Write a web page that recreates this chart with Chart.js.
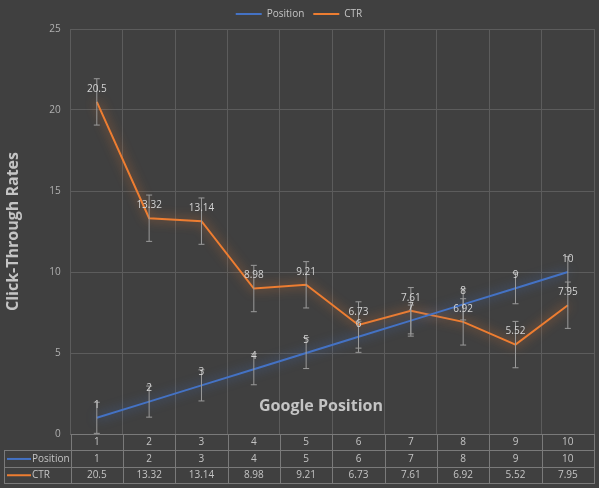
<!DOCTYPE html>
<html>
<head>
<meta charset="utf-8">
<script src="https://cdn.jsdelivr.net/npm/chart.js@4"></script>
<style>
  html, body { margin: 0; padding: 0; background: #404040; }
  #wrap { width: 599px; height: 488px; }
</style>
</head>
<body>
<div id="wrap"><canvas id="c" width="599" height="488"></canvas></div>
<script>
const categories = ['1', '2', '3', '4', '5', '6', '7', '8', '9', '10'];
const positionValues = [1, 2, 3, 4, 5, 6, 7, 8, 9, 10];
const ctrValues = [20.5, 13.32, 13.14, 8.98, 9.21, 6.73, 7.61, 6.92, 5.52, 7.95];
const positionError = 0.96;
const ctrError = 1.43;
const yTicks = [0, 5, 10, 15, 20, 25];

const TEXT = '#c4c4c4';
const GRID = '#5c5c5c';
const FONT = "'Open Sans', 'DejaVu Sans', sans-serif";

// glow under each line, like the Excel soft-edge effect
const glow = {
  id: 'glow',
  beforeDatasetDraw(chart, args) {
    const ctx = chart.ctx;
    ctx.save();
    ctx.shadowColor = args.meta._dataset.glowColor;
    ctx.shadowBlur = 11;
  },
  afterDatasetDraw(chart) {
    chart.ctx.restore();
  }
};

// error bars + data labels
const marks = {
  id: 'marks',
  afterDatasetsDraw(chart) {
    const ctx = chart.ctx;
    const y = chart.scales.y;
    ctx.save();
    chart.data.datasets.forEach((ds, i) => {
      const meta = chart.getDatasetMeta(i);
      meta.data.forEach((pt, j) => {
        const v = ds.data[j];
        const top = y.getPixelForValue(v + ds.errorAmount);
        const bot = y.getPixelForValue(v - ds.errorAmount);
        ctx.strokeStyle = '#9a9a9a';
        ctx.lineWidth = 1;
        ctx.beginPath();
        ctx.moveTo(pt.x, top); ctx.lineTo(pt.x, bot);
        ctx.moveTo(pt.x - 3, top); ctx.lineTo(pt.x + 3, top);
        ctx.moveTo(pt.x - 3, bot); ctx.lineTo(pt.x + 3, bot);
        ctx.stroke();
      });
    });
    chart.data.datasets.forEach((ds, i) => {
      const meta = chart.getDatasetMeta(i);
      ctx.fillStyle = '#d4d4d4';
      ctx.font = '10px ' + FONT;
      ctx.textAlign = 'center';
      ctx.textBaseline = 'middle';
      meta.data.forEach((pt, j) => {
        ctx.fillText(String(ds.data[j]), pt.x, pt.y - 13);
      });
    });
    ctx.restore();
  }
};

// x title inside the plot + data table under the axis
const table = {
  id: 'table',
  afterDraw(chart) {
    const ctx = chart.ctx;
    const x = chart.scales.x;
    const area = chart.chartArea;
    const half = (x.getPixelForValue(1) - x.getPixelForValue(0)) / 2;
    const top = area.bottom;
    const rowH = 16.3;
    const left = 4;
    ctx.save();
    ctx.fillStyle = TEXT;
    ctx.font = 'bold 16px ' + FONT;
    ctx.textAlign = 'center';
    ctx.textBaseline = 'middle';
    ctx.fillText('Google Position', 321, 406);

    ctx.strokeStyle = '#7a7a7a';
    ctx.lineWidth = 1;
    ctx.beginPath();
    // horizontal lines
    ctx.moveTo(area.left, top + 0.5); ctx.lineTo(area.right, top + 0.5);
    for (let r = 1; r <= 3; r++) {
      const yy = Math.round(top + r * rowH) + 0.5;
      ctx.moveTo(left, yy); ctx.lineTo(area.right, yy);
    }
    // vertical lines
    ctx.moveTo(left + 0.5, Math.round(top + rowH)); ctx.lineTo(left + 0.5, Math.round(top + 3 * rowH) + 1);
    for (let k = 0; k <= categories.length; k++) {
      const xx = Math.round(x.getPixelForValue(0) - half + k * 2 * half) + 0.5;
      ctx.moveTo(xx, top); ctx.lineTo(xx, Math.round(top + 3 * rowH) + 1);
    }
    ctx.stroke();

    ctx.font = '10px ' + FONT;
    ctx.fillStyle = TEXT;
    const rows = [categories, positionValues, ctrValues];
    rows.forEach((row, r) => {
      const cy = top + r * rowH + rowH / 2 + 0.5;
      row.forEach((v, j) => {
        ctx.textAlign = 'center';
        ctx.fillText(String(v), x.getPixelForValue(j), cy);
      });
    });
    // legend keys in the table
    chart.data.datasets.forEach((ds, i) => {
      const cy = top + (i + 1) * rowH + rowH / 2 + 0.5;
      ctx.strokeStyle = ds.borderColor;
      ctx.lineWidth = 2;
      ctx.beginPath();
      ctx.moveTo(7, cy); ctx.lineTo(31, cy);
      ctx.stroke();
      ctx.textAlign = 'left';
      ctx.fillText(ds.label, 32, cy);
    });
    ctx.restore();
  }
};

new Chart(document.getElementById('c'), {
  type: 'line',
  data: {
    labels: categories,
    datasets: [
      {
        label: 'Position',
        data: positionValues,
        borderColor: '#4472C4',
        backgroundColor: '#4472C4',
        glowColor: 'rgba(68,114,196,0.85)',
        errorAmount: positionError,
        borderWidth: 2,
        pointRadius: 0,
        tension: 0
      },
      {
        label: 'CTR',
        data: ctrValues,
        borderColor: '#ED7D31',
        backgroundColor: '#ED7D31',
        glowColor: 'rgba(237,125,49,0.85)',
        errorAmount: ctrError,
        borderWidth: 2,
        pointRadius: 0,
        tension: 0
      }
    ]
  },
  options: {
    responsive: false,
    animation: false,
    devicePixelRatio: 1,
    layout: { padding: { left: 4, right: 5, top: 0, bottom: 54 } },
    plugins: {
      tooltip: { enabled: false },
      legend: {
        display: true,
        position: 'top',
        labels: {
          boxWidth: 26,
          boxHeight: 0,
          padding: 9,
          color: TEXT,
          font: { size: 10, family: FONT }
        }
      }
    },
    scales: {
      x: {
        offset: true,
        grid: { color: GRID, offset: true, drawTicks: false },
        border: { color: GRID },
        ticks: { display: false }
      },
      y: {
        min: 0,
        max: 25,
        afterBuildTicks: axis => { axis.ticks = yTicks.map(v => ({ value: v })); },
        grid: { color: GRID, drawTicks: false },
        border: { display: false },
        title: {
          display: true,
          text: 'Click-Through Rates',
          color: TEXT,
          font: { size: 16, weight: 'bold', family: FONT },
          padding: { top: 0, bottom: 16 }
        },
        ticks: {
          color: '#b0b0b0',
          padding: 10,
          font: { size: 10, family: FONT }
        }
      }
    }
  },
  plugins: [glow, marks, table]
});
</script>
</body>
</html>
